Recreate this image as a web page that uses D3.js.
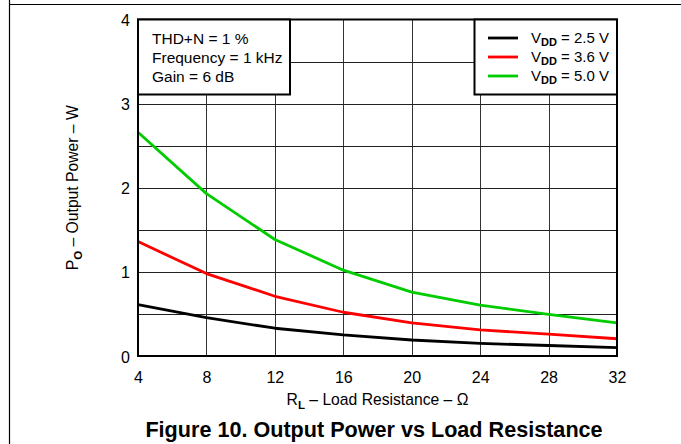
<!DOCTYPE html>
<html><head><meta charset="utf-8">
<script src="https://cdn.jsdelivr.net/npm/d3@7"></script>
<style>body{margin:0;background:#fff}svg{display:block;font-family:"Liberation Sans",Arial,sans-serif}</style>
</head><body><svg id="c" width="681" height="444"></svg>
<script>
const resistance = [4, 8, 12, 16, 20, 24, 28, 32];
const vdd25 = [0.61, 0.455, 0.33, 0.25, 0.19, 0.15, 0.125, 0.1];
const vdd36 = [1.36, 0.98, 0.71, 0.52, 0.395, 0.31, 0.26, 0.205];
const vdd50 = [2.66, 1.93, 1.385, 1.02, 0.76, 0.605, 0.495, 0.395];
const seriesNames = ["2.5 V", "3.6 V", "5.0 V"];
const seriesColors = ["#000000", "#ff0000", "#00cc00"];
const xTicks = [4, 8, 12, 16, 20, 24, 28, 32];
const yTicks = [0, 1, 2, 3, 4];
const yGrid = [0.5, 1, 1.5, 2, 2.5, 3, 3.5];
const conditions = ["THD+N = 1 %", "Frequency = 1 kHz", "Gain = 6 dB"];

const FF = "Liberation Sans, Arial, sans-serif";
const svg = d3.select("#c");
const L = 138, R = 617, T = 19.5, B = 356;
const x = d3.scaleLinear().domain([4, 32]).range([L, R]);
const y = d3.scaleLinear().domain([0, 4]).range([B, T]);

svg.append("line").attr("x1", 9).attr("x2", 681).attr("y1", 4.5).attr("y2", 4.5).attr("stroke", "#000").attr("stroke-width", 1.2);
svg.append("line").attr("x1", 9.5).attr("x2", 9.5).attr("y1", 0).attr("y2", 444).attr("stroke", "#000").attr("stroke-width", 1.2);

const g = svg.append("g");
g.selectAll(".vg").data(xTicks.slice(1, -1)).enter().append("line")
  .attr("x1", d => Math.round(x(d)) + 0.5).attr("x2", d => Math.round(x(d)) + 0.5)
  .attr("y1", T).attr("y2", B).attr("stroke", "#333").attr("stroke-width", 1);
g.selectAll(".hg").data(yGrid).enter().append("line")
  .attr("y1", d => Math.round(y(d)) + 0.5).attr("y2", d => Math.round(y(d)) + 0.5)
  .attr("x1", L).attr("x2", R).attr("stroke", "#222").attr("stroke-width", 1);

const all = [vdd25, vdd36, vdd50];
const line = d3.line().x((d, i) => x(resistance[i])).y(d => y(d));
all.forEach((s, k) => {
  g.append("path").attr("d", line(s)).attr("fill", "none")
    .attr("stroke", seriesColors[k]).attr("stroke-width", 2.8).attr("stroke-linejoin", "round");
});

g.append("rect").attr("x", L).attr("y", T).attr("width", R - L).attr("height", B - T)
  .attr("fill", "none").attr("stroke", "#000").attr("stroke-width", 2);

const xa = d3.axisBottom(x).tickValues(xTicks).tickFormat(d3.format("d")).tickSize(0).tickPadding(0);
const xg = svg.append("g").attr("transform", `translate(0,${B})`).call(xa)
  .attr("font-size", 16).attr("font-family", FF);
xg.select(".domain").remove();
xg.selectAll("text").attr("dy", null).attr("y", 27).attr("fill", "#000");
const ya = d3.axisLeft(y).tickValues(yTicks).tickFormat(d3.format("d")).tickSize(0).tickPadding(0);
const yg = svg.append("g").attr("transform", `translate(${L - 8},0)`).call(ya)
  .attr("font-size", 16).attr("font-family", FF);
yg.select(".domain").remove();
yg.selectAll("text").attr("dy", null).attr("y", 6).attr("fill", "#000");

const xt = svg.append("text").attr("x", x(18)).attr("y", 405).attr("text-anchor", "middle").attr("font-size", 15.7);
xt.append("tspan").text("R");
xt.append("tspan").text("L").attr("font-size", 11.5).attr("font-weight", "bold").attr("dy", 4);
xt.append("tspan").text(" – Load Resistance – Ω").attr("dy", -4);

const yt = svg.append("text").attr("transform", `translate(78,${y(2)}) rotate(-90)`).attr("text-anchor", "middle").attr("font-size", 15.7);
yt.append("tspan").text("P");
yt.append("tspan").text("O").attr("font-size", 11.5).attr("font-weight", "bold").attr("dy", 4);
yt.append("tspan").text(" – Output Power – W").attr("dy", -4);

svg.append("text").attr("x", 374).attr("y", 437).attr("text-anchor", "middle")
  .attr("font-size", 21.6).attr("font-weight", "bold").text("Figure 10. Output Power vs Load Resistance");

svg.append("rect").attr("x", L).attr("y", T).attr("width", 152).attr("height", 75)
  .attr("fill", "#fff").attr("stroke", "#000").attr("stroke-width", 2);
conditions.forEach((t, i) => {
  svg.append("text").attr("x", 152).attr("y", 44 + i * 19).attr("font-size", 15.5).text(t);
});

svg.append("rect").attr("x", 474.5).attr("y", T).attr("width", R - 474.5).attr("height", 75)
  .attr("fill", "#fff").attr("stroke", "#000").attr("stroke-width", 2);
seriesNames.forEach((n, i) => {
  const yy = 38 + i * 19;
  svg.append("line").attr("x1", 488).attr("x2", 518).attr("y1", yy).attr("y2", yy)
    .attr("stroke", seriesColors[i]).attr("stroke-width", 2.8);
  const t = svg.append("text").attr("x", 531).attr("y", yy + 5).attr("font-size", 15);
  t.append("tspan").text("V");
  t.append("tspan").text("DD").attr("font-size", 11).attr("font-weight", "bold").attr("dy", 3);
  t.append("tspan").text(" = " + n).attr("dy", -3);
});
</script></body></html>
